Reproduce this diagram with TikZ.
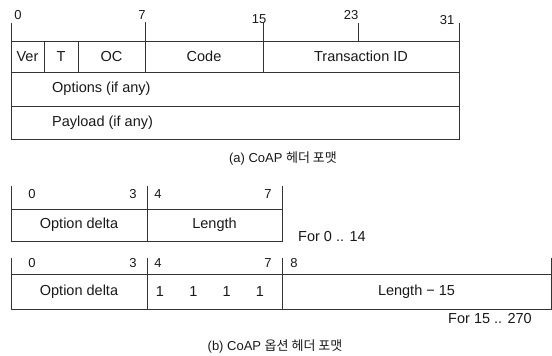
\documentclass[tikz,border=0pt]{standalone}
\usepackage{fontspec}
\setmainfont{Liberation Sans}
\newfontfamily\cjk{Noto Sans CJK KR}
\usetikzlibrary{positioning}
\tikzset{
  cell/.style={draw=black!80,line width=0.75pt,inner sep=0pt,outer sep=0pt,
    font=\fontsize{14.5}{16}\selectfont,text=black!90},
  hdrcell/.style={cell,minimum height=31pt},
  optcell/.style={cell,minimum height=32pt},
  extcell/.style={cell,minimum height=35pt},
  tick/.style={draw=black!80,line width=0.75pt},
  bitno/.style={inner sep=0pt,font=\fontsize{13}{15}\selectfont,text=black!90},
  note/.style={inner sep=0pt,font=\fontsize{14.5}{16}\selectfont,text=black!90},
  caption/.style={inner sep=0pt,font=\fontsize{13}{15}\selectfont,text=black!90}
}
\newcommand{\kr}[1]{{\cjk #1}}

\begin{document}
\begin{tikzpicture}[x=1pt,y=-1pt]
  \useasboundingbox (0,0) rectangle (552,356);
  % (a) header
  \node[hdrcell,minimum width=33pt,anchor=north west] (ver) at (11,41) {Ver};
  \node[hdrcell,minimum width=34pt,right=0pt of ver] (t) {T};
  \node[hdrcell,minimum width=67pt,right=0pt of t] (oc) {OC};
  \node[hdrcell,minimum width=118pt,right=0pt of oc] (code) {Code};
  \node[hdrcell,minimum width=196pt,right=0pt of code] (tid) {Transaction ID};
  \node[cell,minimum width=448pt,minimum height=34pt,anchor=north west] (options) at (ver.south west) {};
  \node[cell,minimum width=448pt,minimum height=33pt,anchor=north west] (payload) at (options.south west) {};
  \node[note,right=41pt of options.west] (optlbl) {Options (if any)};
  \node[note,right=41pt of payload.west] (paylbl) {Payload (if any)};
  \draw[tick] (ver.north west) -- ++(0,-18);
  \draw[tick] (code.north west) -- ++(0,-19);
  \draw[tick] (tid.north west) -- ++(0,-19);
  \draw[tick] (tid.north) ++(-3,0) -- ++(0,-18);
  \draw[tick] (tid.north east) -- ++(0,-18);
  \node[bitno] (b0) at (18,15) {0};
  \node[bitno] (b7) at (142,15) {7};
  \node[bitno] (b15) at (259,19) {15};
  \node[bitno] (b23) at (351,15) {23};
  \node[bitno] (b31) at (447,20) {31};
  \node[caption] (capa) at (283,158) {(a) CoAP \kr{헤더 포맷}};

  % (b) option header, short form
  \node[optcell,minimum width=136pt,anchor=north west] (delta) at (11,209) {Option delta};
  \node[optcell,minimum width=135pt,right=0pt of delta] (len) {Length};
  \draw[tick] (delta.north west) -- ++(0,-23);
  \draw[tick] (delta.north east) -- ++(0,-23);
  \draw[tick] (len.north east) -- ++(0,-23);
  \node[bitno] (d0) at (32,194) {0};
  \node[bitno] (d3) at (133,194) {3};
  \node[bitno] (d4) at (158,194) {4};
  \node[bitno] (d7) at (268,194) {7};
  \node[note,anchor=west] (range1) at (298,237) {For 0 .. 14};

  % (b) option header, long form
  \node[extcell,minimum width=136pt,anchor=north west] (delta2) at (11,274) {Option delta};
  \node[extcell,minimum width=135pt,right=0pt of delta2] (ones) {};
  \node[extcell,minimum width=269pt,right=0pt of ones] (len2) {Length − 15};
  \foreach \i in {0,...,3}
    \node[note] (one\i) at ({160+33.3*\i},292) {1};
  \draw[tick] (delta2.north west) -- ++(0,-16);
  \draw[tick] (delta2.north east) -- ++(0,-16);
  \draw[tick] (ones.north east) -- ++(0,-16);
  \draw[tick] (len2.north east) -- ++(0,-16);
  \node[bitno] (e0) at (32,263) {0};
  \node[bitno] (e3) at (133,263) {3};
  \node[bitno] (e4) at (158,263) {4};
  \node[bitno] (e7) at (268,263) {7};
  \node[bitno] (e8) at (294,263) {8};
  \node[note,anchor=east] (range2) at (532,319) {For 15 .. 270};
  \node[caption] (capb) at (275,346) {(b) CoAP \kr{옵션 헤더 포맷}};
\end{tikzpicture}
\end{document}
